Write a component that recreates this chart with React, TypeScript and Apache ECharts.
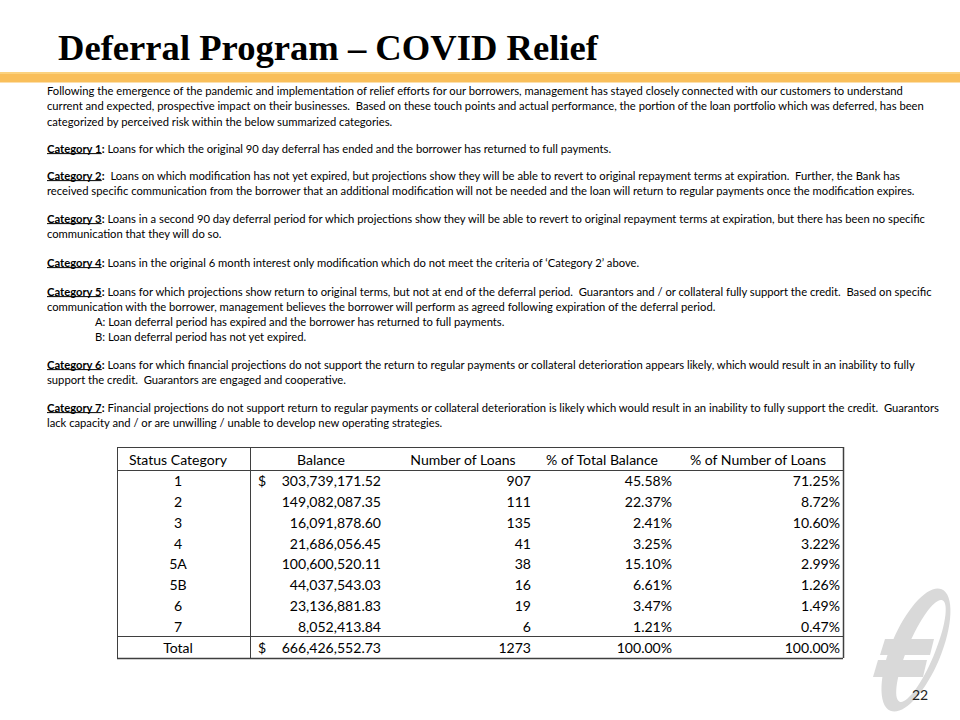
import React, { useEffect, useRef } from "react";
import * as echarts from "echarts";

// ---------- content ----------
const TITLE = "Deferral Program – COVID Relief";
const PAGE_NUMBER = "22";

// body lines: bold underlined label (if any) and the rest of the line
const bodyLabels: (string | null)[] = [
  null, null, null,
  "Category 1",
  "Category 2", null,
  "Category 3", null,
  "Category 4",
  "Category 5", null, null, null,
  "Category 6", null,
  "Category 7", null,
];
const bodyTexts: string[] = [
  "Following the emergence of the pandemic and implementation of relief efforts for our borrowers, management has stayed closely connected with our customers to understand",
  "current and expected, prospective impact on their businesses.  Based on these touch points and actual performance, the portion of the loan portfolio which was deferred, has been",
  "categorized by perceived risk within the below summarized categories.",
  ": Loans for which the original 90 day deferral has ended and the borrower has returned to full payments.",
  ":  Loans on which modification has not yet expired, but projections show they will be able to revert to original repayment terms at expiration.  Further, the Bank has",
  "received specific communication from the borrower that an additional modification will not be needed and the loan will return to regular payments once the modification expires.",
  ": Loans in a second 90 day deferral period for which projections show they will be able to revert to original repayment terms at expiration, but there has been no specific",
  "communication that they will do so.",
  ": Loans in the original 6 month interest only modification which do not meet the criteria of ‘Category 2’ above.",
  ": Loans for which projections show return to original terms, but not at end of the deferral period.  Guarantors and / or collateral fully support the credit.  Based on specific",
  "communication with the borrower, management believes the borrower will perform as agreed following expiration of the deferral period.",
  "A: Loan deferral period has expired and the borrower has returned to full payments.",
  "B: Loan deferral period has not yet expired.",
  ": Loans for which financial projections do not support the return to regular payments or collateral deterioration appears likely, which would result in an inability to fully",
  "support the credit.  Guarantors are engaged and cooperative.",
  ": Financial projections do not support return to regular payments or collateral deterioration is likely which would result in an inability to fully support the credit.  Guarantors",
  "lack capacity and / or are unwilling / unable to develop new operating strategies.",
];
const bodyIndented: boolean[] = bodyTexts.map((t) => /^[AB]: /.test(t));

// ---------- table data ----------
const tableHeaders = ["Status Category", "Balance", "Number of Loans", "% of Total Balance", "% of Number of Loans"];
const statusCategories = ["1", "2", "3", "4", "5A", "5B", "6", "7"];
const balances = [303739171.52, 149082087.35, 16091878.6, 21686056.45, 100600520.11, 44037543.03, 23136881.83, 8052413.84];
const loanCounts = [907, 111, 135, 41, 38, 16, 19, 6];
const pctOfBalance = [45.58, 22.37, 2.41, 3.25, 15.1, 6.61, 3.47, 1.21];
const pctOfLoans = [71.25, 8.72, 10.6, 3.22, 2.99, 1.26, 1.49, 0.47];
const totalLabel = "Total";
const totalBalance = 666426552.73;
const totalLoans = 1273;
const totalPctBalance = 100;
const totalPctLoans = 100;

// ---------- layout ----------
const BODY_X = 47;
const INDENT_X = 95;
const bodyYs = [90, 105.5, 121, 148, 175, 190.5, 218, 233.5, 262, 291, 306, 321, 336, 364, 379.5, 407, 422];

const T_LEFT = 117, T_RIGHT = 843, T_DIV = 250;
const T_TOP = 447, T_HEAD_BOTTOM = 470, T_TOTAL_TOP = 636, T_BOTTOM = 658;

const fmtMoney = (v: number) => v.toLocaleString("en-US", { minimumFractionDigits: 2, maximumFractionDigits: 2 });
const fmtPct = (v: number) => v.toFixed(2) + "%";

export default function App() {
  const ref = useRef<HTMLDivElement>(null);
  useEffect(() => {
    document.body.style.margin = "0";
    if (!ref.current) return;
    const chart = echarts.init(ref.current, null, { renderer: "svg" });

    const ctx = document.createElement("canvas").getContext("2d")!;
    const measure = (text: string, font: string) => {
      ctx.font = font;
      return ctx.measureText(text).width;
    };
    const fit = (text: string, weight: string, family: string, target: number) =>
      (100 * target) / measure(text, `${weight} 100px ${family}`);

    const BODY_FONT = "Lato";
    const TITLE_FONT = "Liberation Serif";
    const bodySize = Math.min(13, fit(bodyTexts[0], "normal", BODY_FONT, 859));
    const titleSize = fit(TITLE, "bold", TITLE_FONT, 540);
    const tableSize = Math.min(
      17,
      (fit("303,739,171.52", "normal", BODY_FONT, 96) + fit("% of Number of Loans", "normal", BODY_FONT, 142)) / 2
    );

    const els: any[] = [];

    // gold bar
    els.push({ type: "rect", shape: { x: 0, y: 72, width: 960, height: 10.5 }, style: { fill: "#F9BF5B" } });
    els.push({ type: "rect", shape: { x: 0, y: 72, width: 960, height: 2 }, style: { fill: "#FBD27F" } });

    // title
    els.push({
      type: "text", x: 58, y: 47,
      style: { text: TITLE, fontFamily: TITLE_FONT, fontWeight: "bold", fontSize: titleSize, fill: "#000", verticalAlign: "middle", align: "left" },
    });

    // body
    bodyTexts.forEach((t, i) => {
      const y = bodyYs[i];
      let x = bodyIndented[i] ? INDENT_X : BODY_X;
      const label = bodyLabels[i];
      if (label) {
        const lw = measure(label, `bold ${bodySize}px ${BODY_FONT}`);
        els.push({
          type: "text", x, y,
          style: { text: label, fontFamily: BODY_FONT, fontWeight: "bold", fontSize: bodySize, fill: "#000", verticalAlign: "middle" },
        });
        els.push({
          type: "line", shape: { x1: x, y1: y + bodySize * 0.5, x2: x + lw, y2: y + bodySize * 0.5 },
          style: { stroke: "#000", lineWidth: 1 },
        });
        x += lw;
        const colon = ":";
        const cw = measure(colon, `bold ${bodySize}px ${BODY_FONT}`);
        els.push({
          type: "text", x, y,
          style: { text: colon, fontFamily: BODY_FONT, fontWeight: "bold", fontSize: bodySize, fill: "#000", verticalAlign: "middle" },
        });
        x += cw;
        t = t.slice(1);
      }
      els.push({
        type: "text", x, y,
        style: { text: t, fontFamily: BODY_FONT, fontSize: bodySize, fill: "#000", verticalAlign: "middle" },
      });
    });

    // table lines
    const lineStyle = { stroke: "#3F3F3F", lineWidth: 1 };
    const hl = (y: number, w = 1) => els.push({ type: "line", shape: { x1: T_LEFT, y1: y, x2: T_RIGHT, y2: y }, style: { ...lineStyle, lineWidth: w } });
    const vl = (x: number, w = 1) => els.push({ type: "line", shape: { x1: x, y1: T_TOP, x2: x, y2: T_BOTTOM }, style: { ...lineStyle, lineWidth: w } });
    hl(T_TOP + 0.5);
    hl(T_HEAD_BOTTOM + 0.5);
    hl(T_TOTAL_TOP + 0.5);
    hl(T_BOTTOM + 0.5, 1.5);
    vl(T_LEFT + 0.5);
    vl(T_DIV + 0.5);
    vl(T_RIGHT + 0.5, 1.5);

    const cell = (text: string, x: number, y: number, align: string) =>
      els.push({
        type: "text", x, y,
        style: { text, fontFamily: BODY_FONT, fontSize: tableSize, fill: "#000", verticalAlign: "middle", align },
      });

    // header
    const headerY = (T_TOP + T_HEAD_BOTTOM) / 2 + 0.5;
    const headerCx = [178, 321, 463, 602, 758];
    tableHeaders.forEach((h, i) => cell(h, headerCx[i], headerY, "center"));

    const rowH = (T_TOTAL_TOP - T_HEAD_BOTTOM) / statusCategories.length;
    const COL_CAT = 178, COL_DOLLAR = 258, COL_BAL = 381, COL_LOANS = 531, COL_PB = 672, COL_PL = 840;
    statusCategories.forEach((c, i) => {
      const y = T_HEAD_BOTTOM + rowH * (i + 0.5) + 0.5;
      cell(c, COL_CAT, y, "center");
      if (i === 0) cell("$", COL_DOLLAR, y, "left");
      cell(fmtMoney(balances[i]), COL_BAL, y, "right");
      cell(String(loanCounts[i]), COL_LOANS, y, "right");
      cell(fmtPct(pctOfBalance[i]), COL_PB, y, "right");
      cell(fmtPct(pctOfLoans[i]), COL_PL, y, "right");
    });
    const ty = (T_TOTAL_TOP + T_BOTTOM) / 2 + 0.5;
    cell(totalLabel, COL_CAT, ty, "center");
    cell("$", COL_DOLLAR, ty, "left");
    cell(fmtMoney(totalBalance), COL_BAL, ty, "right");
    cell(String(totalLoans), COL_LOANS, ty, "right");
    cell(fmtPct(totalPctBalance), COL_PB, ty, "right");
    cell(fmtPct(totalPctLoans), COL_PL, ty, "right");

    // logo (light grey stylised mark)
    const logoGrey = "#D9D9D9";
    els.push({
      type: "ellipse", x: 916, y: 650, rotation: -0.4,
      shape: { cx: 0, cy: 0, rx: 25, ry: 66 },
      style: { fill: logoGrey },
    });
    els.push({
      type: "ellipse", x: 921, y: 651, rotation: -0.4,
      shape: { cx: 0, cy: 0, rx: 13.5, ry: 55 },
      style: { fill: "#FFFFFF" },
    });
    els.push({
      type: "polygon",
      shape: { points: [[885, 639], [934, 639], [930, 655], [880, 655]] },
      style: { fill: logoGrey },
    });
    els.push({
      type: "polygon",
      shape: { points: [[878, 660], [927, 660], [923, 677], [873, 677]] },
      style: { fill: logoGrey },
    });
    els.push({
      type: "text", x: 920, y: 694,
      style: { text: PAGE_NUMBER, fontFamily: BODY_FONT, fontSize: 14, fill: "#222", verticalAlign: "middle", align: "center" },
    });

    chart.setOption({ animation: false, graphic: { elements: els } });
    return () => chart.dispose();
  }, []);
  return <div ref={ref} style={{ width: 960, height: 720 }} />;
}
